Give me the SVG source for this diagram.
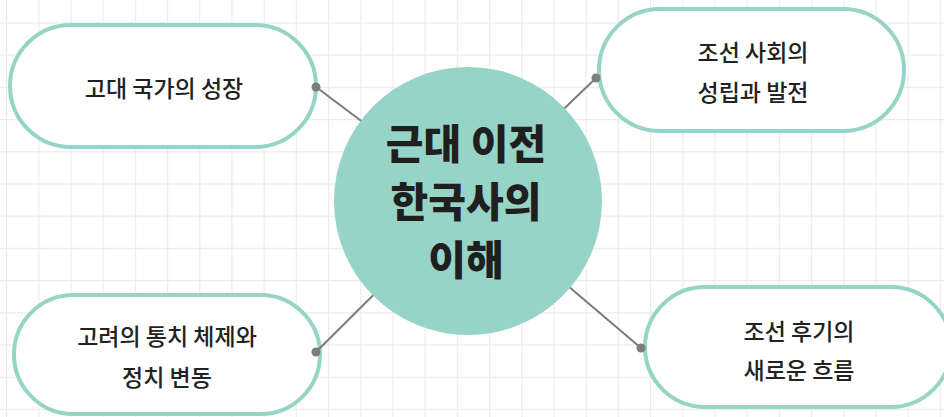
<svg xmlns="http://www.w3.org/2000/svg" width="944" height="417" viewBox="0 0 944 417">
  <defs>
    <pattern id="grid" patternUnits="userSpaceOnUse" x="6" y="22.4" width="32.2" height="32.2">
      <path d="M0 0H32.2M0 0V32.2" fill="none" stroke="#ebebeb" stroke-width="2.4"/>
    </pattern>
    <style>
      .pill { fill: #ffffff; stroke: #96d4c8; stroke-width: 4; }
      .conn { stroke: #7b7b7b; stroke-width: 2; fill: none; }
      .dot { fill: #7d7d7d; }
      .lbl { font-family: "Noto Sans CJK KR", "Noto Sans", sans-serif; font-size: 23px; font-weight: 500; fill: #222222; text-anchor: middle; dominant-baseline: central; }
      .title { font-family: "Noto Sans CJK KR", "Noto Sans", sans-serif; font-size: 41px; font-weight: 900; fill: #1f1f1f; text-anchor: middle; dominant-baseline: central; }
    </style>
  </defs>
  <rect width="944" height="417" fill="#ffffff"/>
  <rect width="944" height="417" fill="url(#grid)"/>

  <g id="node-ancient">
    <rect class="pill" x="10" y="25" width="306" height="122" rx="61"/>
    <text class="lbl" x="164" y="87">고대 국가의 성장</text>
  </g>

  <g id="node-joseon-early">
    <rect class="pill" x="599" y="9" width="305" height="122" rx="61"/>
    <text class="lbl" x="753" y="51">조선 사회의</text>
    <text class="lbl" x="753" y="91">성립과 발전</text>
  </g>

  <g id="node-goryeo">
    <rect class="pill" x="14" y="295" width="306" height="119" rx="59.5"/>
    <text class="lbl" x="167" y="335">고려의 통치 체제와</text>
    <text class="lbl" x="167" y="376">정치 변동</text>
  </g>

  <g id="node-joseon-late">
    <rect class="pill" x="645" y="287" width="306" height="120" rx="60"/>
    <text class="lbl" x="799" y="330">조선 후기의</text>
    <text class="lbl" x="799" y="369">새로운 흐름</text>
  </g>

  <g id="connectors">
    <line class="conn" x1="316" y1="87" x2="468" y2="201"/>
    <line class="conn" x1="596" y1="78" x2="468" y2="201"/>
    <line class="conn" x1="316" y1="352" x2="468" y2="201"/>
    <line class="conn" x1="641" y1="348" x2="468" y2="201"/>
    <circle class="dot" cx="316" cy="87" r="4.5"/>
    <circle class="dot" cx="596" cy="78" r="4.5"/>
    <circle class="dot" cx="316" cy="352" r="4.5"/>
    <circle class="dot" cx="641" cy="348" r="4.5"/>
  </g>

  <g id="node-center">
    <circle cx="468" cy="201" r="134" fill="#96d4c8"/>
    <text class="title" x="466" y="141">근대 이전</text>
    <text class="title" x="466" y="199">한국사의</text>
    <text class="title" x="466" y="257">이해</text>
  </g>
</svg>
